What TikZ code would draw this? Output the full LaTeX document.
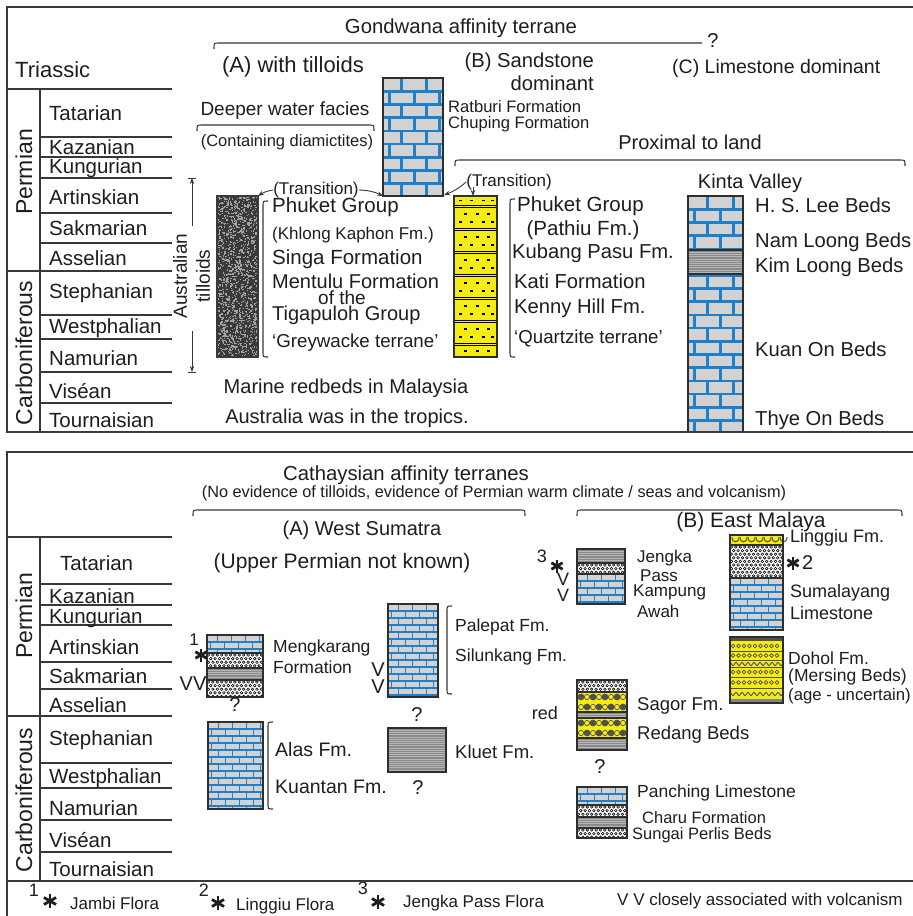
\documentclass[tikz,border=0pt]{standalone}
\usepackage{fontspec}
\setmainfont{Liberation Sans}
\usetikzlibrary{arrows.meta}
\definecolor{txtc}{HTML}{1E1E1E}
\definecolor{linec}{HTML}{383838}
\definecolor{framec}{HTML}{3A3A3A}
\definecolor{outc}{HTML}{2E2E2E}
\definecolor{lsblue}{HTML}{1E7FCB}
\definecolor{lsgray}{HTML}{D2D2D2}
\definecolor{ylw}{HTML}{F4EC14}
\definecolor{shgray}{HTML}{8A8A8A}
\definecolor{shline}{HTML}{B6B6B6}
\definecolor{gwbase}{HTML}{3A3A3A}
\definecolor{gwlight}{HTML}{A4A4A4}
\definecolor{cgdark}{HTML}{505050}
\tikzset{
  fs/.style={font=\fontsize{#1}{#1}\selectfont},
  lt/.style={anchor=west},
  frame/.style={draw=framec, line width=1.5},
  tline/.style={draw=linec, line width=1.3},
  outl/.style={draw=outc, line width=1.2},
  brc/.style={draw=linec, line width=1.1},
  arr/.style={draw=linec, line width=0.9, -{Stealth[length=6pt,width=4.5pt]}},
  every node/.style={inner sep=0pt, text=txtc},
}
% limestone: x1 y1 x2 y2 rowh brickw lw
\newcommand{\limebox}[7]{%
  \begin{scope}
    \clip (#1,#2) rectangle (#3,#4);
    \fill[lsgray] (#1,#2) rectangle (#3,#4);
    \pgfmathtruncatemacro{\nrw}{ceil((#4-#2)/#5)}
    \pgfmathtruncatemacro{\ncl}{ceil((#3-#1)/#6)+1}
    \foreach \ii in {0,...,\nrw}{%
      \pgfmathsetmacro{\yy}{#2+\ii*#5}
      \pgfmathsetmacro{\off}{mod(\ii,2)*#6/2}
      \draw[lsblue,line width=#7] (#1,\yy) -- (#3,\yy);
      \foreach \jj in {0,...,\ncl}{%
        \pgfmathsetmacro{\xx}{#1+\off+\jj*#6-#6/4}
        \draw[lsblue,line width=#7] (\xx,\yy) -- (\xx,\yy+#5);
      }
    }
  \end{scope}}
\newcommand{\shalebox}[4]{%
  \fill[shgray] (#1,#2) rectangle (#3,#4);
  \begin{scope}
    \clip (#1,#2) rectangle (#3,#4);
    \pgfmathtruncatemacro{\nn}{(#4-#2)/2.2}
    \foreach \ii in {1,...,\nn}{\draw[shline,line width=0.6] (#1,#2+\ii*2.2) -- (#3,#2+\ii*2.2);}
  \end{scope}}
\newcommand{\dotbox}[4]{%
  \fill[white] (#1,#2) rectangle (#3,#4);
  \begin{scope}
    \clip (#1,#2) rectangle (#3,#4);
    \pgfmathtruncatemacro{\nrw}{ceil((#4-#2)/3.6)}
    \pgfmathtruncatemacro{\ncl}{ceil((#3-#1)/4.4)+1}
    \foreach \ii in {0,...,\nrw}{\foreach \jj in {0,...,\ncl}{%
      \pgfmathsetmacro{\xx}{#1+1.5+\jj*4.4+mod(\ii,2)*2.2}
      \pgfmathsetmacro{\yy}{#2+2+\ii*3.6}
      \draw[black,line width=0.55] (\xx,\yy) circle (1.3);}}
  \end{scope}}
\newcommand{\conbox}[4]{%
  \fill[ylw] (#1,#2) rectangle (#3,#4);
  \begin{scope}
    \clip (#1,#2) rectangle (#3,#4);
    \foreach \ii in {0,1}{\foreach \jj in {0,...,4}{%
      \pgfmathsetmacro{\xx}{#1+4+\jj*12+mod(\ii,2)*6}
      \pgfmathsetmacro{\xr}{#1+10+\jj*12-mod(\ii,2)*6}
      \pgfmathsetmacro{\yy}{#2+5+\ii*10}
      \fill[cgdark] (\xx,\yy) circle (3.4);
      \draw[cgdark,line width=0.7] (\xr,\yy) circle (2.6);}}
  \end{scope}}
\newcommand{\hbr}[3]{\draw[brc] (#1,#3+6) .. controls (#1,#3) .. (#1+5,#3) -- (#2-5,#3) .. controls (#2,#3) .. (#2,#3+6);}
\newcommand{\vbr}[3]{\draw[brc] (#1+5,#2) .. controls (#1,#2) .. (#1,#2+5) -- (#1,#3-5) .. controls (#1,#3) .. (#1+5,#3);}
\newcommand{\astm}[3]{\foreach \aa in {90,30,150}{\draw[line width=2.8,txtc] ({#1+#3*cos(\aa)},{#2-#3*sin(\aa)}) -- ({#1-#3*cos(\aa)},{#2+#3*sin(\aa)});}}
\begin{document}
\begin{tikzpicture}[x=1pt,y=-1pt]
\useasboundingbox (0,0) rectangle (913,916);
\fill[white] (0,0) rectangle (913,916);

% ===================== TOP PANEL =====================
\draw[tline] (7,89) -- (172,89);
\draw[tline] (40,89) -- (40,432);
\foreach \yy in {137,157,178,213,243,315,339,372,403} \draw[tline] (40,\yy) -- (172,\yy);
\draw[tline] (7,271) -- (172,271);
\node[lt,fs=22] (tri) at (15,70) {Triassic};
\node[fs=23,rotate=90] (perm1) at (24,172) {Permian};
\node[fs=23,rotate=90] (carb1) at (24,353) {Carboniferous};
\node[lt,fs=20.5] (s1a) at (49,113) {Tatarian};
\node[lt,fs=20.5] (s1b) at (49,147) {Kazanian};
\node[lt,fs=20.5] (s1c) at (49,168) {Kungurian};
\node[lt,fs=20.5] (s1d) at (49,197) {Artinskian};
\node[lt,fs=20.5] (s1e) at (49,228) {Sakmarian};
\node[lt,fs=20.5] (s1f) at (49,258) {Asselian};
\node[lt,fs=20.5] (s1g) at (49,293) {Stephanian};
\node[lt,fs=20.5] (s1h) at (49,328) {Westphalian};
\node[lt,fs=20.5] (s1i) at (49,358) {Namurian};
\node[lt,fs=20.5] (s1j) at (49,391) {Viséan};
\node[lt,fs=20.5] (s1k) at (49,420) {Tournaisian};

% headings
\node[fs=20.3] (gond) at (461,28) {Gondwana affinity terrane};
\draw[brc] (214,49) .. controls (214,43) .. (219,43) -- (702,43);
\node[fs=20] (gq) at (713,41) {?};
\node[fs=22] (hA) at (293,67) {(A) with tilloids};
\node[anchor=east,fs=20.2] (hB1) at (594,62) {(B) Sandstone};
\node[anchor=east,fs=20.2] (hB2) at (594,83) {dominant};
\node[lt,fs=19.5] (hC) at (672,68) {(C) Limestone dominant};
\node[fs=19] (deep) at (285,111) {Deeper water facies};
\hbr{197}{374}{125}
\node[fs=16.5] (diam) at (287,142) {(Containing diamictites)};
\node[fs=20] (prox) at (690,142) {Proximal to land};
\hbr{455}{905}{160}
\node[fs=20] (kinta) at (750,183) {Kinta Valley};

% Ratburi limestone column
\limebox{383}{78}{443}{196}{13.2}{25}{2.6}
\draw[outl] (383,78) rectangle (443,196);
\coordinate (rbSW) at (383,196);
\coordinate (rbSE) at (444,195);
\node[lt,fs=16.6] (ratb) at (448,107) {Ratburi Formation};
\node[lt,fs=16.6] (chup) at (448,124) {Chuping Formation};

% Australian tilloids range
\coordinate (autop) at (192,178);
\coordinate (aubot) at (192,372);
\coordinate (au1) at (192,226);
\coordinate (au2) at (192,331);
\draw[arr] (au1) -- (autop);
\draw[arr] (au2) -- (aubot);
\draw[tline,line width=1] (188,178) -- (196,178);
\draw[tline,line width=1] (188,372) -- (196,372);
\node[fs=19,rotate=90] (aus) at (180,276) {Australian};
\node[fs=19,rotate=90] (till) at (203,276) {tilloids};

% Greywacke column
\begin{scope}
\clip (217,196) rectangle (258,357);
\fill[gwbase] (217,196) rectangle (258,357);
\pgfmathsetseed{7}
\foreach \ii in {1,...,1400}{\pgfmathsetmacro{\rx}{216+43*rnd}\pgfmathsetmacro{\ry}{195+163*rnd}\fill[gwlight] (\rx,\ry) rectangle ++(1.3,1.3);}
\end{scope}
\draw[outl,draw=gwbase] (217,196) rectangle (258,357);
\coordinate (gwNE) at (258,196);

% transitions
\node[fs=17] (tr1) at (316,190) {(Transition)};
\draw[arr] (tr1.west) to[bend right=12] (gwNE);
\draw[arr] (tr1.east) to[bend left=12] (rbSW);
\node[fs=17] (tr2) at (509,182) {(Transition)};
\coordinate (ylN) at (473,196);
\coordinate (tr2a) at (473,187);
\draw[arr] (tr2.west) to[bend left=10] (rbSE);
\draw[arr] (tr2a) -- (ylN);

% greywacke texts
\vbr{263}{201}{357}
\node[lt,fs=20.5] (gw1) at (272,207) {Phuket Group};
\node[lt,fs=17] (gw2) at (272,235) {(Khlong Kaphon Fm.)};
\node[lt,fs=20.5] (gw3) at (272,259) {Singa Formation};
\node[lt,fs=20] (gw4) at (272,281) {Mentulu Formation};
\node[fs=19] (gw5) at (342,298) {of the};
\node[lt,fs=20] (gw6) at (272,315) {Tigapuloh Group};
\node[lt,fs=18.7] (gw7) at (272,343) {‘Greywacke terrane’};
\node[fs=20] (mar) at (346,388) {Marine redbeds in Malaysia};
\node[fs=20] (trop) at (347,418) {Australia was in the tropics.};

% Yellow sandstone column
\fill[ylw] (454,196) rectangle (497,357);
\foreach \s in {205,228,251,274,297,320,343}{\draw[black,line width=0.9] (454,\s) -- (497,\s); \draw[black,line width=0.9] (454,\s+2.6) -- (497,\s+2.6);}
\foreach \yy in {200.5,222,245,268,291,314,337}{\foreach \xx in {459,470,482,491}{\draw[black,line width=1.8] (\xx,\yy) -- (\xx+3,\yy);}}
\foreach \yy in {214,237,260,283,306,329,351}{\foreach \xx in {464,476,487}{\draw[black,line width=1.8] (\xx,\yy) -- (\xx+3,\yy);}}
\draw[outl] (454,196) rectangle (497,357);

\vbr{510}{199}{357}
\node[lt,fs=20.5] (ss1) at (517,206) {Phuket Group};
\node[fs=20.5] (ss2) at (583,230) {(Pathiu Fm.)};
\node[lt,fs=20.2] (ss3) at (512,253) {Kubang Pasu Fm.};
\node[lt,fs=20.2] (ss4) at (514,281) {Kati Formation};
\node[lt,fs=20.2] (ss5) at (514,308) {Kenny Hill Fm.};
\node[lt,fs=18.7] (ss6) at (514,338) {‘Quartzite terrane’};

% Kinta column
\limebox{688}{196}{743}{432}{13.2}{26}{2.6}
\shalebox{688}{250}{743}{274}
\draw[outl] (688,250) -- (743,250) (688,274) -- (743,274);
\draw[outl] (688,432) -- (688,196) -- (743,196) -- (743,432);
\node[lt,fs=20.2] (k1) at (755,205) {H. S. Lee Beds};
\node[lt,fs=20.2] (k2) at (755,242) {Nam Loong Beds};
\node[lt,fs=20.2] (k3) at (755,267) {Kim Loong Beds};
\node[lt,fs=20.2] (k4) at (755,349) {Kuan On Beds};
\node[lt,fs=20.2] (k5) at (755,420) {Thye On Beds};

% ===================== BOTTOM PANEL =====================
\draw[tline] (7,537) -- (172,537);
\draw[tline] (40,537) -- (40,881);
\foreach \yy in {584,605,625,662,689,763,788,820,852} \draw[tline] (40,\yy) -- (172,\yy);
\draw[tline] (7,716) -- (172,716);
\node[fs=23,rotate=90] (perm2) at (24,616) {Permian};
\node[fs=23,rotate=90] (carb2) at (24,800) {Carboniferous};
\node[lt,fs=20.5] (s2a) at (60,563) {Tatarian};
\node[lt,fs=20.5] (s2b) at (49,596) {Kazanian};
\node[lt,fs=20.5] (s2c) at (49,618) {Kungurian};
\node[lt,fs=20.5] (s2d) at (49,647) {Artinskian};
\node[lt,fs=20.5] (s2e) at (49,676) {Sakmarian};
\node[lt,fs=20.5] (s2f) at (49,705) {Asselian};
\node[lt,fs=20.5] (s2g) at (49,740) {Stephanian};
\node[lt,fs=20.5] (s2h) at (49,778) {Westphalian};
\node[lt,fs=20.5] (s2i) at (49,808) {Namurian};
\node[lt,fs=20.5] (s2j) at (49,840) {Viséan};
\node[lt,fs=20.5] (s2k) at (49,869) {Tournaisian};

\node[fs=20.3] (cath) at (406,475) {Cathaysian affinity terranes};
\node[fs=16.3] (noev) at (494,493) {(No evidence of tilloids, evidence of Permian warm climate / seas and volcanism)};
\hbr{193}{525}{510}
\hbr{577}{902}{510}
\node[fs=20] (ws) at (362,530) {(A) West Sumatra};
\node[fs=21] (em) at (751,522) {(B) East Malaya};
\node[fs=21] (upn) at (342,563) {(Upper Permian not known)};

% Mengkarang
\limebox{207}{635}{263}{653}{7}{14}{1.9}
\dotbox{207}{653}{263}{668}
\shalebox{207}{668}{263}{680}
\dotbox{207}{680}{263}{697}
\draw[outl] (207,653) -- (263,653) (207,668) -- (263,668) (207,680) -- (263,680);
\draw[outl] (207,635) rectangle (263,697);
\node[fs=17] (n1) at (194,640) {1};
\astm{201}{655}{6.5}
\node[fs=20] (vv1) at (193,684) {VV};
\node[lt,fs=17.5] (mk1) at (273,648) {Mengkarang};
\node[lt,fs=17.5] (mk2) at (273,667) {Formation};
\node[fs=20] (q2) at (235,705) {?};

% Alas / Kuantan
\limebox{208}{722}{263}{809}{7}{14}{1.9}
\draw[outl] (208,722) rectangle (263,809);
\vbr{268}{722}{809}
\node[lt,fs=19.5] (al) at (275,750) {Alas Fm.};
\node[lt,fs=19.5] (ku) at (275,787) {Kuantan Fm.};

% Palepat / Silunkang
\limebox{388}{604}{438}{697}{7}{14}{1.9}
\draw[outl] (388,604) rectangle (438,697);
\vbr{447}{606}{694}
\node[lt,fs=17.5] (pp) at (455,627) {Palepat Fm.};
\node[lt,fs=17.5] (sk) at (455,657) {Silunkang Fm.};
\node[fs=20] (v2a) at (378,670) {V};
\node[fs=20] (v2b) at (378,687) {V};
\node[fs=20] (q3) at (417,715) {?};

% Kluet
\shalebox{388}{728}{446}{772}
\draw[outl] (388,728) rectangle (446,772);
\node[lt,fs=18.5] (kl) at (455,752) {Kluet Fm.};
\node[fs=20] (q4) at (418,788) {?};
\node[fs=18] (red) at (545,713) {red};

% Jengka
\shalebox{577}{549}{625}{563}
\dotbox{577}{563}{625}{574}
\limebox{577}{574}{625}{604}{7}{14}{1.9}
\draw[outl] (577,563) -- (625,563) (577,574) -- (625,574);
\draw[outl] (577,549) rectangle (625,604);
\node[fs=18] (n3) at (542,556) {3};
\astm{557}{566}{6.5}
\node[fs=18] (v3a) at (563,579) {V};
\node[fs=18] (v3b) at (563,595) {V};
\node[lt,fs=17] (jg1) at (637,558) {Jengka};
\node[lt,fs=17] (jg2) at (640,576) {Pass};
\node[lt,fs=17] (jg3) at (633,592) {Kampung};
\node[lt,fs=17] (jg4) at (637,611) {Awah};

% Linggiu / Sumalayang
\fill[ylw] (730,535) rectangle (783,545);
\foreach \xx in {732,740,...,780}{\draw[cgdark,line width=1] (\xx,537) .. controls (\xx,543.5) and (\xx+7,543.5) .. (\xx+7,537);}
\dotbox{730}{545}{783}{578}
\limebox{730}{578}{783}{630}{7}{14}{1.9}
\draw[outl] (730,545) -- (783,545) (730,578) -- (783,578);
\draw[outl] (730,535) rectangle (783,630);
\node[lt,fs=18] (lg1) at (790,538) {Linggiu Fm.};
\astm{793}{563}{6.5}
\node[lt,fs=20] (n2) at (802,563) {2};
\node[lt,fs=18] (lg2) at (790,593) {Sumalayang};
\node[lt,fs=18] (lg3) at (790,613) {Limestone};

% Dohol
\fill[ylw] (730,637) rectangle (783,703);
\fill[cgdark] (730,637) rectangle (783,641);
\fill[cgdark!70] (730,699) rectangle (783,703);
\foreach \s in {651,660,667,677,688}{\draw[cgdark,line width=0.8] (730,\s) -- (783,\s);}
\foreach \yy in {646,655.5,672,682.5}{\foreach \xx in {733,738.5,...,782}{\draw[cgdark,line width=0.7] (\xx,\yy) circle (1.9);}}
\foreach \yy in {664,694}{\draw[cgdark,line width=0.9] plot[domain=0:53,samples=80] ({730+\x},{\yy-1.6*cos(\x*60)});}
\draw[outl] (730,637) rectangle (783,703);
\node[lt,fs=17.5] (dh1) at (788,658) {Dohol Fm.};
\node[lt,fs=17.5] (dh2) at (788,677) {(Mersing Beds)};
\node[lt,fs=16.7] (dh3) at (788,696) {(age - uncertain)};

% Sagor / Redang
\dotbox{577}{680}{627}{692}
\conbox{577}{692}{627}{712}
\shalebox{577}{712}{627}{718}
\conbox{577}{718}{627}{738}
\shalebox{577}{738}{627}{750}
\draw[outl] (577,692) -- (627,692) (577,712) -- (627,712) (577,718) -- (627,718) (577,738) -- (627,738);
\draw[outl] (577,680) rectangle (627,750);
\node[lt,fs=18.5] (sg) at (637,706) {Sagor Fm.};
\node[lt,fs=18.5] (rd) at (637,735) {Redang Beds};
\node[fs=20] (q5) at (600,767) {?};

% Panching / Charu / Sungai Perlis
\limebox{577}{787}{627}{805}{7}{14}{1.9}
\dotbox{577}{805}{627}{817}
\shalebox{577}{817}{627}{828}
\dotbox{577}{828}{627}{838}
\draw[outl] (577,805) -- (627,805) (577,817) -- (627,817) (577,828) -- (627,828);
\draw[outl] (577,787) rectangle (627,838);
\node[lt,fs=17.5] (pc) at (637,793) {Panching Limestone};
\node[lt,fs=16.5] (ch) at (642,818) {Charu Formation};
\node[lt,fs=16.5] (sp) at (632,835) {Sungai Perlis Beds};

% legend
\node[fs=18] (l1n) at (34,890) {1};
\astm{50}{901}{7}
\node[lt,fs=17] (l1) at (70,903) {Jambi Flora};
\node[fs=18] (l2n) at (204,890) {2};
\astm{218}{903}{7}
\node[lt,fs=17] (l2) at (236,906) {Linggiu Flora};
\node[fs=18] (l3n) at (363,888) {3};
\astm{378}{902}{7}
\node[lt,fs=17] (l3) at (403,903) {Jengka Pass Flora};
\node[lt,fs=17] (lv) at (617,901) {V V closely associated with volcanism};

% frames
\draw[frame] (913,7) -- (7,7) -- (7,432) -- (913,432);
\draw[frame] (913,452) -- (7,452) -- (7,916);
\draw[frame] (7,881) -- (913,881);
\end{tikzpicture}
\end{document}
